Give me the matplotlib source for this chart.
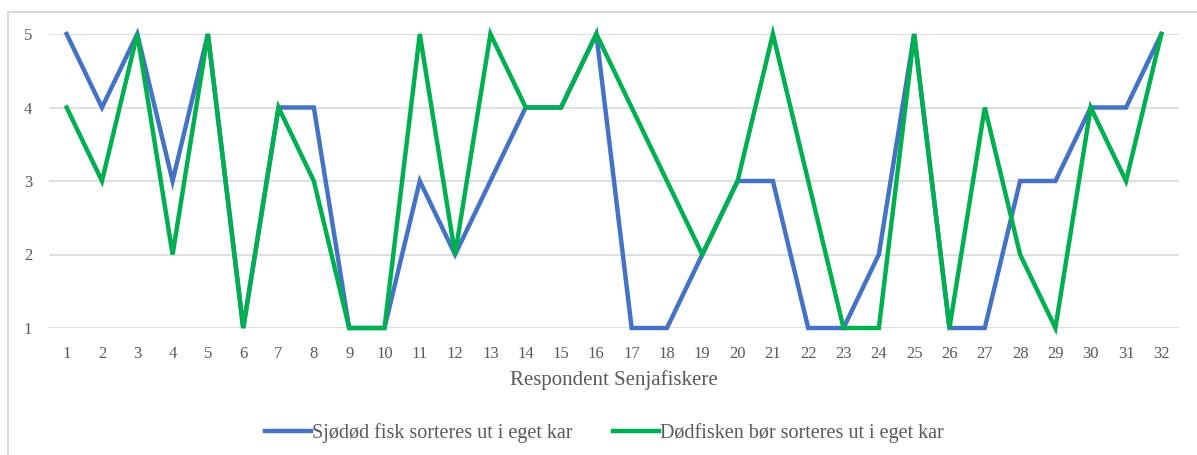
import matplotlib.pyplot as plt
from matplotlib.patches import Rectangle

# --- Data ---
respondents = list(range(1, 33))
sjodod = [5, 4, 5, 3, 5, 1, 4, 4, 1, 1, 3, 2, 3, 4, 4, 5,
          1, 1, 2, 3, 3, 1, 1, 2, 5, 1, 1, 3, 3, 4, 4, 5]
dodfisken = [4, 3, 5, 2, 5, 1, 4, 3, 1, 1, 5, 2, 5, 4, 4, 5,
             4, 3, 2, 3, 5, 3, 1, 1, 5, 1, 4, 2, 1, 4, 3, 5]
label_blue = "Sjødød fisk sorteres ut i eget kar"
label_green = "Dødfisken bør sorteres ut i eget kar"

plt.rcParams['font.family'] = ['Liberation Serif', 'DejaVu Serif']
text_color = "#595959"

fig = plt.figure(figsize=(11.97, 4.55), dpi=100)
W, H = 1197, 455

# outer chart border (only left/top visible in the reference)
fig.add_artist(Rectangle((8 / W, -0.1), 1.2, (H - 12) / H + 0.1,
                         transform=fig.transFigure, fill=False,
                         edgecolor="#d9d9d9", linewidth=1.5))

ax = fig.add_axes([49 / W, 1 - 328 / H, (1179 - 49) / W, (328 - 34) / H])

ax.plot(respondents, sjodod, color="#4472C4", linewidth=3.2, clip_on=False,
        label=label_blue, solid_joinstyle="miter")
ax.plot(respondents, dodfisken, color="#00B050", linewidth=3.2, clip_on=False,
        label=label_green, solid_joinstyle="miter")

ax.set_xlim(0.5, 32.5)
ax.set_ylim(1, 5)
ax.set_yticks([1, 2, 3, 4, 5])
ax.set_xticks(respondents)
ax.grid(axis="y", color="#d9d9d9", linewidth=1.2)
ax.set_axisbelow(True)
for s in ax.spines.values():
    s.set_visible(False)
ax.tick_params(length=0, labelsize=12, colors=text_color)
ax.tick_params(axis="x", pad=13)
ax.tick_params(axis="y", pad=12)

ax.set_xlabel("Respondent Senjafiskere", fontsize=15, color=text_color,
              labelpad=6)

fig.legend(loc="center", bbox_to_anchor=(0.505, 1 - 433 / H), ncol=2,
           frameon=False, fontsize=14.5, handlelength=2.3, handletextpad=0.05,
           columnspacing=2.0, labelcolor=text_color)

fig.savefig("out.png", dpi=100)
